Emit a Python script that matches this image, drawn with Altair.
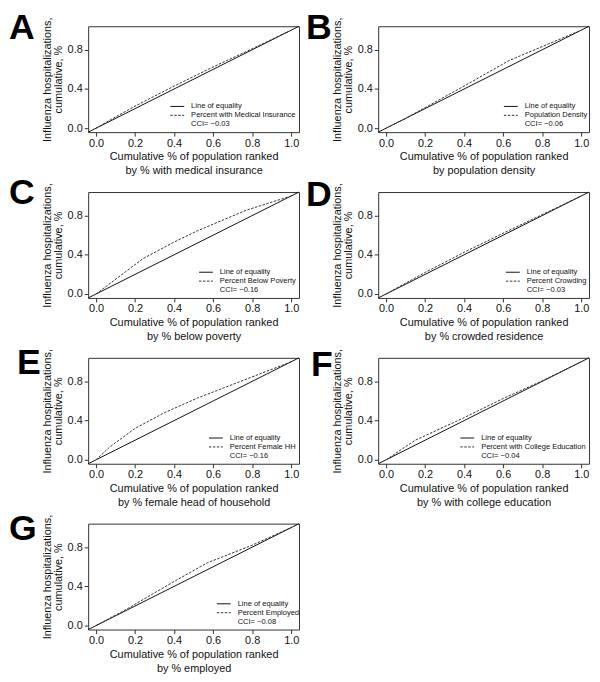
import altair as alt
import pandas as pd

FONT = "Liberation Sans"

# ---- data -------------------------------------------------------------
tick_values = [0.0, 0.2, 0.4, 0.6, 0.8, 1.0]
axis_domain = [-0.04, 1.04]          # plot range (line of equality spans it)

letters = ["A", "B", "C", "D", "E", "F", "G"]
x_title_line1 = "Cumulative % of population ranked"
x_title_line2 = [
    "by % with medical insurance",
    "by population density",
    "by % below poverty",
    "by % crowded residence",
    "by % female head of household",
    "by % with college education",
    "by % employed",
]
y_title = ["Influenza hospitalizations,", "cumulative, %"]
equality_label = "Line of equality"
series_labels = [
    "Percent with Medical Insurance",
    "Population Density",
    "Percent Below Poverty",
    "Percent Crowding",
    "Percent Female HH",
    "Percent with College Education",
    "Percent Employed",
]
cci_labels = [
    "CCI= \u22120.03",
    "CCI= \u22120.06",
    "CCI= \u22120.16",
    "CCI= \u22120.03",
    "CCI= \u22120.16",
    "CCI= \u22120.04",
    "CCI= \u22120.08",
]

# concentration curves (cumulative population share, cumulative hospitalizations)
a_x = [0.0, 0.1, 0.2, 0.4, 0.6, 0.8, 1.0]
a_y = [0.0, 0.115, 0.225, 0.43, 0.625, 0.81, 1.0]
b_x = [0.0, 0.1, 0.2, 0.4, 0.63, 1.0]
b_y = [0.0, 0.10, 0.21, 0.43, 0.69, 1.0]
c_x = [0.0, 0.24, 0.4, 0.52, 0.77, 1.0]
c_y = [0.0, 0.36, 0.53, 0.645, 0.855, 1.0]
d_x = [0.0, 0.2, 0.4, 0.6, 0.8, 1.0]
d_y = [0.0, 0.22, 0.425, 0.62, 0.81, 1.0]
e_x = [0.0, 0.07, 0.2, 0.35, 0.52, 0.78, 1.0]
e_y = [0.0, 0.13, 0.32, 0.48, 0.63, 0.83, 1.0]
f_x = [0.0, 0.15, 0.4, 0.6, 0.8, 1.0]
f_y = [0.0, 0.20, 0.43, 0.625, 0.805, 1.0]
g_x = [0.0, 0.15, 0.4, 0.57, 0.8, 1.0]
g_y = [0.0, 0.16, 0.45, 0.64, 0.82, 1.0]

curves_x = [a_x, b_x, c_x, d_x, e_x, f_x, g_x]
curves_y = [a_y, b_y, c_y, d_y, e_y, f_y, g_y]

# ---- layout / style ---------------------------------------------------
W, H = 213, 107
legend_line_start = [83, 127, 112, 129, 122, 83, 130]
letter_x = [-80, -73, -80, -73, -72, -68, -80]
letter_y = [13, 13, 12, 14, 16, 18, 17]
INK = "#111111"
DASH = [2.5, 1.5]


def one(text):
    return pd.DataFrame({"t": [text]})


def panel(i):
    xscale = alt.Scale(domain=axis_domain, nice=False, zero=False)
    yscale = alt.Scale(domain=axis_domain, nice=False, zero=False)
    xaxis = alt.Axis(
        values=tick_values,
        format=".1f",
        title=[x_title_line1, x_title_line2[i]],
        titleLineHeight=14,
        titlePadding=3,
        labelPadding=1,
        labelFlush=False,
    )
    yaxis = alt.Axis(
        values=tick_values,
        labelExpr="(abs(datum.value-0.2)<0.01 || abs(datum.value-0.6)<0.01 || abs(datum.value-1)<0.01) ? '' : format(datum.value, '.1f')",
        title=y_title,
        titleLineHeight=11,
        titlePadding=4,
        labelPadding=2,
        labelFlush=False,
    )
    eq_df = pd.DataFrame({"x": axis_domain, "y": axis_domain})
    cv_df = pd.DataFrame({"x": curves_x[i], "y": curves_y[i]})

    eq = alt.Chart(eq_df).mark_line(color=INK, strokeWidth=1).encode(
        x=alt.X("x:Q", scale=xscale, axis=xaxis),
        y=alt.Y("y:Q", scale=yscale, axis=yaxis),
    )
    cv = alt.Chart(cv_df).mark_line(color="#333333", strokeWidth=1, strokeDash=DASH).encode(
        x="x:Q", y="y:Q"
    )

    lx = legend_line_start[i]
    tx = lx + 21
    y1, y2, y3 = H - 26, H - 17, H - 8
    leg_solid = alt.Chart(one("")).mark_rule(color=INK, strokeWidth=1).encode(
        x=alt.value(lx), x2=alt.value(lx + 14), y=alt.value(y1)
    )
    leg_dash = alt.Chart(one("")).mark_rule(color="#333333", strokeWidth=1, strokeDash=DASH).encode(
        x=alt.value(lx), x2=alt.value(lx + 14), y=alt.value(y2)
    )
    txt_kw = dict(align="left", baseline="middle", fontSize=7.6, font=FONT, color=INK)
    t1 = alt.Chart(one(equality_label)).mark_text(**txt_kw).encode(
        text="t:N", x=alt.value(tx), y=alt.value(y1)
    )
    t2 = alt.Chart(one(series_labels[i])).mark_text(**txt_kw).encode(
        text="t:N", x=alt.value(tx), y=alt.value(y2)
    )
    t3 = alt.Chart(one(cci_labels[i])).mark_text(**txt_kw).encode(
        text="t:N", x=alt.value(tx), y=alt.value(y3)
    )
    letter = alt.Chart(one(letters[i])).mark_text(
        align="left", baseline="alphabetic", fontSize=36, fontWeight="bold", font=FONT, color="#000000"
    ).encode(text="t:N", x=alt.value(letter_x[i]), y=alt.value(letter_y[i]))

    return alt.layer(eq, cv, leg_solid, leg_dash, t1, t2, t3, letter).properties(width=W, height=H)


chart = (
    alt.concat(*[panel(i) for i in range(7)], columns=2, spacing={"row": 60.5, "column": 80}, bounds="flush")
    .properties(padding={"left": 0, "top": -2, "right": 0, "bottom": 0})
    .configure(font=FONT)
    .configure_view(stroke="#333333", strokeWidth=1)
    .configure_axis(
        domain=False,
        grid=False,
        tickSize=4,
        tickColor="#333333",
        labelFont=FONT,
        labelFontSize=11,
        labelColor=INK,
        titleFont=FONT,
        titleFontSize=11,
        titleFontWeight="normal",
        titleColor=INK,
    )
)

chart.save("out.html", embed_options={"renderer": "svg", "actions": False})
